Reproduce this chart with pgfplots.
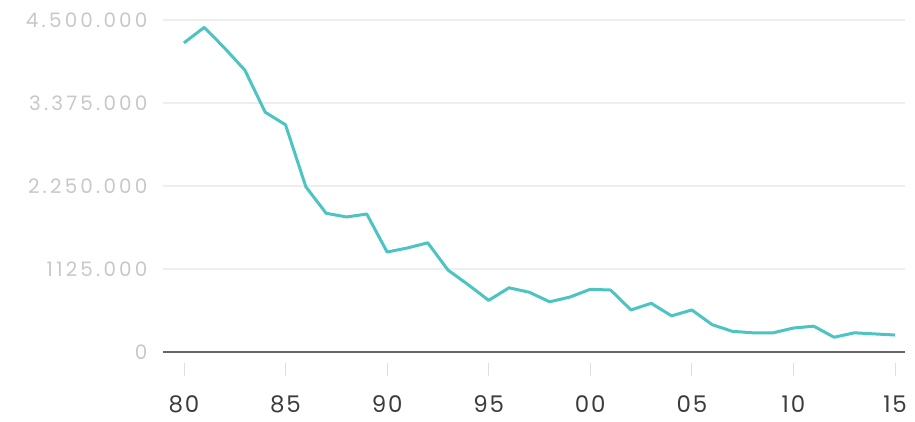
\documentclass[border=0pt]{standalone}
\usepackage{fontspec}
\setmainfont{Poppins}
\newfontfamily\ylabfont[LetterSpace=16]{Poppins}
\newfontfamily\xlabfont[LetterSpace=8]{Poppins}
\usepackage{pgfplots}
\pgfplotsset{compat=1.18}
\definecolor{teal1}{HTML}{4CC4C2}
\definecolor{gridc}{HTML}{EEEEEE}
\definecolor{ylab}{HTML}{C8C8C8}
\definecolor{xlab}{HTML}{3C3C3C}
\definecolor{zeroc}{HTML}{666666}
\begin{document}
\begin{tikzpicture}[x=1bp,y=1bp]
\begin{axis}[
  scale only axis,
  width=742bp, height=332bp,
  xmin=1978.97, xmax=2015.49,
  ymin=0, ymax=4500000,
  axis line style={draw=none},
  tick style={draw=none},
  clip=false,
  scaled y ticks=false,
  ytick={0,1125000,2250000,3375000,4500000},
  yticklabels={0,1125.000,2.250.000,3.375.000,4.500.000},
  xtick={1980,1985,1990,1995,2000,2005,2010,2015},
  xticklabels={80,85,90,95,00,05,10,15},
  ymajorgrids,
  grid style={gridc, line width=1.5bp},
  major tick length=0pt,
  yticklabel style={font=\ylabfont\fontsize{20}{22}\selectfont, text=ylab, anchor=east, xshift=-12bp},
  xticklabel style={font=\xlabfont\fontsize{23}{26}\selectfont, text=xlab, anchor=center, yshift=-52bp},
  /pgf/number format/assume math mode=true,
]
\addplot[draw=zeroc, line width=1.3bp] coordinates {(1978.97,0) (2015.49,0)};
\addplot[draw=gray!25, line width=0.8bp] coordinates {(1980,-150000) (1980,-330000)};
\addplot[draw=gray!25, line width=0.8bp] coordinates {(1985,-150000) (1985,-330000)};
\addplot[draw=gray!25, line width=0.8bp] coordinates {(1990,-150000) (1990,-330000)};
\addplot[draw=gray!25, line width=0.8bp] coordinates {(1995,-150000) (1995,-330000)};
\addplot[draw=gray!25, line width=0.8bp] coordinates {(2000,-150000) (2000,-330000)};
\addplot[draw=gray!25, line width=0.8bp] coordinates {(2005,-150000) (2005,-330000)};
\addplot[draw=gray!25, line width=0.8bp] coordinates {(2010,-150000) (2010,-330000)};
\addplot[draw=gray!25, line width=0.8bp] coordinates {(2015,-150000) (2015,-330000)};
\addplot[draw=teal1, line width=3bp, line join=round] coordinates {
(1980,4190000) (1981,4400000) (1982,4120000) (1983,3820000) (1984,3250000)
(1985,3080000) (1986,2240000) (1987,1880000) (1988,1830000) (1989,1870000)
(1990,1355000) (1991,1410000) (1992,1480000) (1993,1110000) (1994,910000)
(1995,700000) (1996,870000) (1997,810000) (1998,680000) (1999,745000)
(2000,850000) (2001,840000) (2002,570000) (2003,660000) (2004,490000)
(2005,570000) (2006,370000) (2007,280000) (2008,260000) (2009,260000)
(2010,325000) (2011,350000) (2012,200000) (2013,260000) (2014,245000)
(2015,230000)};
\end{axis}
\pgfresetboundingbox
\path[use as bounding box] (-163bp,-70bp) rectangle (752bp,352bp);
\end{tikzpicture}
\end{document}
